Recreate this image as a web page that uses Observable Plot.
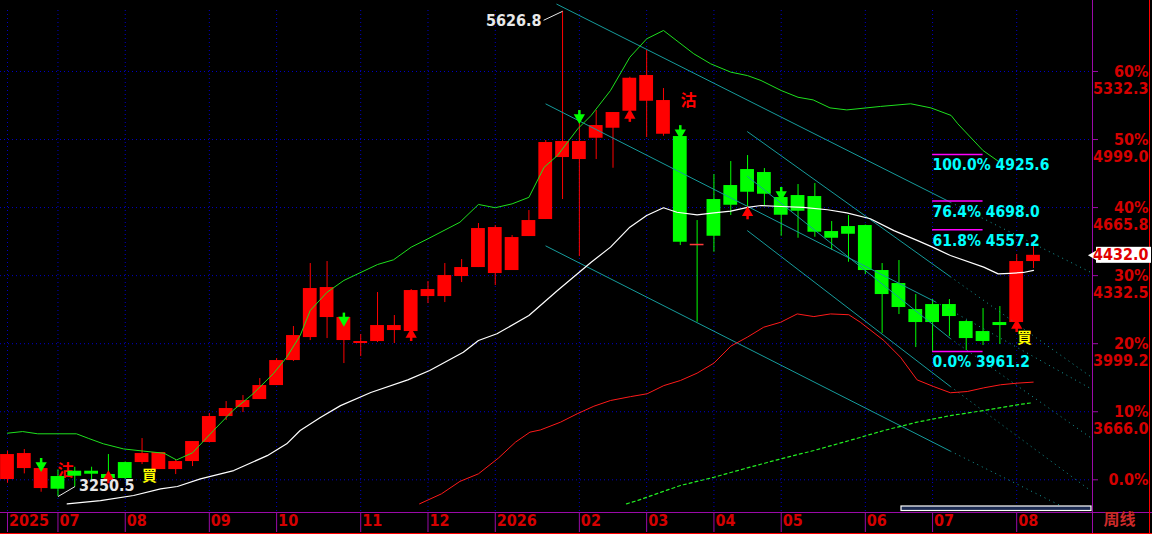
<!DOCTYPE html>
<html><head><meta charset="utf-8">
<script src="https://cdn.jsdelivr.net/npm/d3@7"></script>
<script src="https://cdn.jsdelivr.net/npm/@observablehq/plot@0.6"></script>
<style>html,body{margin:0;padding:0;background:#000;overflow:hidden}</style>
</head><body><div id="chart"></div>
<script>
// ---- weekly candles (index 0..61) ----
const opens  = [3334,3387.8,3289.9,3348.7,3374.8,3374.8,3358.5,3417.2,3417.2,3382.9,3382.9,3422.1,3515.2,3642.5,3686.6,3725.7,3794.3,3916.7,4029.3,4127.3,4014.7,4000,4009.8,4063.6,4058.7,4230.1,4230.1,4328.1,4372.1,4342.8,4357.5,4523.9,4607.2,4910.8,4901,5005.3,5054.3,5137.5,5186.5,5024.9,5013.6,4484.8,4705.1,4773.7,4852,4837.4,4714.9,4724.7,4719.8,4548.4,4572.9,4577.8,4357.5,4293.8,4166.5,4190.9,4190.9,4107.7,4058.7,4102.8,4102.8,4401.5];
const highs  = [3472.7,3480.9,3390,3381.3,3394,3394.3,3456.4,3420,3534.7,3466.2,3431.9,3520.1,3657.2,3715.9,3745.3,3828.6,3926.5,4083.2,4391.7,4401.5,4127.3,4044,4249.7,4137.1,4264.4,4303.6,4391.7,4411.3,4587.6,4577.8,4528.8,4651.3,4994.1,5626.8,5092,5141,5131.2,5304,5434.8,5248.7,5034.7,4602.3,4827.6,4891.2,4920.6,4856.9,4763.9,4778.6,4783.5,4597.4,4626.8,4580,4391.7,4406.4,4239.9,4215.4,4215.4,4112.6,4171.4,4181.2,4435.8,4494];
const lows   = [3316,3361.7,3271.9,3250.5,3296.4,3329.1,3338.9,3335,3407.4,3382.9,3358.5,3397.6,3515.2,3622.9,3662.1,3725.7,3794.3,3911.8,4014.7,4024.4,3902,3936.3,4005,4000,4019.5,4195.8,4200.7,4298.7,4372.1,4284,4357.5,4523.9,4607.2,4705.1,4426,4901,4858.4,5131,5008.7,5015,4479.9,4104.3,4447.1,4626.8,4661.1,4675.8,4525.4,4515.6,4520.5,4456.8,4398.1,4337.9,4048.9,4142,3980.4,3961.2,4034.2,3965.7,3990.2,3995.1,4102.8,4367.2];
const closes = [3456.4,3461.3,3387.8,3286.6,3350.3,3360.1,3338.9,3338.9,3461.3,3466.2,3422.1,3520.1,3642.5,3681.7,3720.8,3794.3,3916.7,4039.1,4269.3,4274.2,4127.3,4009.8,4088.1,4088.1,4259.5,4264.4,4333,4372.1,4563.1,4568,4519,4602.3,4984.3,4989.2,4989.2,5067.5,5131.2,5299.1,5312.4,5189.9,4496,4484.8,4525.4,4677.2,4740.9,4731.1,4628.3,4647.8,4545,4515.6,4535.2,4357.5,4239.9,4176.3,4102.8,4102.8,4132.2,4024.4,4009.8,4088.1,4401.5,4432];

// ---- month ticks ----
const monthIdx    = [0,3,7,12,16,21,25,29,34,38,42,46,51,55,60];
const monthLabels = ["2025","07","08","09","10","11","12","2026","02","03","04","05","06","07","08"];

// ---- right axis ----
const basePrice   = 3332.7;
const pctLevels   = [60,50,40,30,20,10,0];
const pctLabels   = ["60%","50%","40%","30%","20%","10%","0.0%"];
const priceLabels = ["5332.3","4999.0","4665.8","4332.5","3999.2","3666.0"];

// ---- indicator lines: [candle index, price] ----
const upperBand = [[0,3561],[0.9,3569],[1.8,3558],[4.1,3558],[4.8,3536],[5.7,3509],[6.9,3484],[8.1,3473],[9.3,3463],[10.05,3430],[11,3465],[12.25,3574],[13.4,3672],[14.6,3754],[15.8,3852],[16.6,3933],[17.4,4039],[18,4162],[19,4251],[20,4309],[22,4387],[22.95,4410],[24,4472],[25,4513],[26.9,4594],[28,4681],[29,4665],[30,4684],[31,4716],[31.9,4863],[32.7,4921],[33.9,5051],[34.7,5117],[35.85,5239],[37,5402],[38,5492],[39,5533],[40.8,5419],[41.8,5370],[43,5329],[44,5312],[44.8,5288],[46,5239],[47,5206],[47.9,5193],[48.9,5154],[49.9,5144],[51.9,5161],[53.7,5174],[54.9,5154],[56.1,5117],[56.5,5076],[58,4945],[58.9,4893]];
const midLine = [[3.55,3215],[5.53,3231],[7.5,3256],[9.1,3288],[10.1,3300],[11.47,3337],[13.45,3378],[15.44,3451],[16.6,3509],[17.4,3574],[18.6,3638],[19.8,3696],[21.6,3760],[23.8,3822],[25.1,3868],[27.1,3957],[28,4015],[29.1,4048],[31,4137],[32.7,4260],[34.7,4398],[35.85,4472],[37,4570],[38,4627],[39,4665],[39.8,4643],[41,4630],[42,4640],[43,4648],[44,4667],[44.8,4676],[46,4671],[47.3,4667],[48.75,4655],[49.9,4640],[51.3,4611],[52.7,4553],[54.08,4505],[55,4472],[56.06,4431],[58.04,4374],[58.9,4341],[59.6,4344],[60.4,4348],[61,4358]];
const lowerBand = [[24.5,3215],[25.8,3264],[26.9,3325],[28,3362],[29.2,3440],[30.2,3517],[31.06,3566],[31.69,3577],[32.88,3615],[33.87,3656],[34.86,3693],[35.85,3721],[37.04,3740],[38.03,3754],[39.02,3794],[40.01,3819],[41,3855],[42,3904],[43,3987],[43.98,4031],[44.96,4080],[45.96,4104],[46.95,4145],[47.94,4132],[48.93,4145],[50.02,4141],[50.71,4104],[52.1,4015],[53.09,3933],[54.08,3822],[55.07,3789],[56.06,3759],[57.06,3765],[58.04,3783],[59.04,3798],[60.03,3806],[60.98,3811]];
const longLine = [[36.8,3215],[37.44,3231],[40.01,3305],[41.99,3345],[43.98,3391],[45.96,3435],[47.94,3476],[50.52,3536],[52.1,3574],[54.08,3615],[56.06,3647],[58.04,3672],[60.03,3700],[60.92,3710]];

// ---- channel lines: start, end of solid part, end of dotted part ----
const chanStart = [[32.64,5662.5],[31.99,5173.8],[31.99,4478.4],[43.98,5038.1],[43.98,4819.2],[43.98,4553.3]];
const chanSplit = [[56.06,4691.9],[55.17,4204],[56.06,3473],[56.06,4327.1],[56.06,4024.4],[56.06,3789.4]];
const chanEnd   = [[64.39,4349.1],[64.39,3780],[62.6,3206.6],[64.39,3838.6],[64.39,3539.6],[64.39,3280.1]];

// ---- Fibonacci retracement ----
const fibLevels = ["100.0%","76.4%","61.8%","0.0%"];
const fibPrices = [4925.6,4698.0,4557.2,3961.2];
const fibDashed = [false,true,true,false];
const fibFrom = 55, fibTo = 58;

// ---- signals ----
const downArrowIdx = [2,20,34,40,46];
const downArrowAt  = [3388,4100,5092,5018,4715];
const upArrowIdx   = [6,24,37,44,60];
const upArrowAt    = [3362,4059,5132,4655,4103];
const sellMarks = [[3.45,3376],[40.49,5188]];
const buyMarks  = [[8.44,3349],[60.46,4027]];
const highIdx = 33, lowIdx = 3;

// ---- scales ----
const W = 1152, H = 534, mR = 60, mB = 22;
const xDomain = [-0.416, 64.507];
const yDomain = [3172.6, 5679.8];
const kx = (xDomain[1]-xDomain[0]) / (W - mR);
const ky = (yDomain[1]-yDomain[0]) / (H - mB);
const xmax = xDomain[1], ymin = yDomain[0];

const candles = d3.range(opens.length).map(i => ({i, o: opens[i], h: highs[i], l: lows[i], c: closes[i]}));
const RED = "#ff0000", GREEN = "#00ff00";
const bodyColor = d => d.c >= d.o ? RED : GREEN;
const wickColor = d => d.c > d.o ? RED : GREEN;
const gridPrices = pctLevels.map(p => basePrice * (1 + p/100));
const gridBlue = "#0000c8", purple = "#9a0aa8", teal = "#169c9c", axisRed = "#d40000";
const condensed = "'DejaVu Sans Condensed','DejaVu Sans',sans-serif";
const cjk = "'Noto Sans CJK SC','Noto Sans CJK TC',sans-serif";
const B = 0.41;

const chart = Plot.plot({
  width: W, height: H,
  marginLeft: 0, marginRight: mR, marginTop: 0, marginBottom: mB,
  x: {domain: xDomain, axis: null},
  y: {domain: yDomain, axis: null},
  style: {background: "#000", color: "#fff", overflow: "visible"},
  marks: [
    // grid
    Plot.ruleY(gridPrices, {y: d => d, stroke: gridBlue, strokeDasharray: "1,3"}),
    Plot.ruleX(monthIdx, {x: d => d, stroke: gridBlue, strokeDasharray: "1,3", insetTop: 10}),
    // sell mark under candles
    Plot.text(sellMarks.slice(0,1), {x: d => d[0], y: d => d[1], text: () => "沽", fill: RED, fontSize: 16, fontWeight: "bold", fontFamily: cjk}),
    // candles
    Plot.ruleX(candles, {x: "i", y1: "l", y2: "h", stroke: wickColor, strokeWidth: 1}),
    Plot.rect(candles.filter(d => d.c !== d.o), {x1: d => d.i - B, x2: d => d.i + B, y1: "o", y2: "c", fill: bodyColor}),
    Plot.ruleY(candles.filter(d => d.c === d.o), {x1: d => d.i - B, x2: d => d.i + B, y: "c", stroke: "#ff3a3a", strokeWidth: 1.5}),
    // channels
    Plot.link(d3.range(chanStart.length), {x1: i => chanStart[i][0], y1: i => chanStart[i][1], x2: i => chanSplit[i][0], y2: i => chanSplit[i][1], stroke: teal, strokeWidth: 1}),
    Plot.link(d3.range(chanStart.length), {x1: i => chanSplit[i][0], y1: i => chanSplit[i][1], x2: i => chanEnd[i][0], y2: i => chanEnd[i][1], stroke: teal, strokeWidth: 1, strokeDasharray: "1,4"}),
    // indicator lines
    Plot.line(longLine, {x: d => d[0], y: d => d[1], stroke: "#22ee22", strokeWidth: 1.2, strokeDasharray: "3,3"}),
    Plot.line(lowerBand, {x: d => d[0], y: d => d[1], stroke: "#ff1a1a", strokeWidth: 1}),
    Plot.line(midLine, {x: d => d[0], y: d => d[1], stroke: "#ffffff", strokeWidth: 1.2}),
    Plot.line(upperBand, {x: d => d[0], y: d => d[1], stroke: "#1ee01e", strokeWidth: 1}),
    // arrows
    Plot.ruleX(downArrowIdx, {x: d => d, y1: (d, i) => downArrowAt[i], y2: (d, i) => downArrowAt[i], insetTop: -10, insetBottom: 4, stroke: GREEN, strokeWidth: 2.5}),
    Plot.dot(downArrowIdx, {x: d => d, y: (d, i) => downArrowAt[i], symbol: "triangle", rotate: 180, r: 4.2, fill: GREEN, dy: -3}),
    Plot.ruleX(upArrowIdx, {x: d => d, y1: (d, i) => upArrowAt[i], y2: (d, i) => upArrowAt[i], insetTop: 4, insetBottom: -10, stroke: RED, strokeWidth: 2.5}),
    Plot.dot(upArrowIdx, {x: d => d, y: (d, i) => upArrowAt[i], symbol: "triangle", r: 4.2, fill: RED, dy: 3}),
    // sell / buy marks
    Plot.text(sellMarks.slice(1), {x: d => d[0], y: d => d[1], text: () => "沽", fill: RED, fontSize: 16, fontWeight: "bold", fontFamily: cjk}),
    Plot.text(buyMarks, {x: d => d[0], y: d => d[1], text: () => "買", fill: "#ffff00", fontSize: 15, fontWeight: "bold", fontFamily: cjk}),
    // fibonacci
    Plot.ruleY(fibPrices, {y: d => d, x1: fibFrom, x2: fibTo, stroke: "#ff00ff", strokeWidth: 1.5, strokeDasharray: (d, i) => fibDashed[i] ? "2,3" : null}),
    Plot.text(fibPrices, {x: fibFrom, y: d => d, text: (d, i) => `${fibLevels[i]} ${d.toFixed(1)}`, textAnchor: "start", dy: 11, fill: "#00ffff", fontSize: 15.5, fontWeight: "bold", fontFamily: condensed}),
    // high / low labels with leaders
    Plot.link([highIdx], {x1: d => d, y1: d => highs[d], x2: d => d - 19*kx, y2: d => highs[d] - 9*ky, stroke: "#e8e8e8", strokeWidth: 1}),
    Plot.text([highIdx], {x: d => d, y: d => highs[d], text: d => highs[d].toFixed(1), textAnchor: "end", dx: -21, dy: 10, fill: "#e8e8e8", fontSize: 16, fontWeight: "bold", fontFamily: condensed}),
    Plot.link([lowIdx], {x1: d => d, y1: d => lows[d], x2: d => d + 17*kx, y2: d => lows[d] + 10*ky, stroke: "#e8e8e8", strokeWidth: 1}),
    Plot.text([lowIdx], {x: d => d, y: d => lows[d], text: d => lows[d].toFixed(1), textAnchor: "start", dx: 21, dy: -10.5, fill: "#e8e8e8", fontSize: 16, fontWeight: "bold", fontFamily: condensed}),
    // scrollbar
    Plot.rect([0], {x1: xmax, x2: xmax, y1: ymin, y2: ymin, insetLeft: -191, insetRight: 1, insetTop: -6, insetBottom: 1.5, fill: "#1c2b52", stroke: "#ffffff", strokeWidth: 1.2}),
    // frame lines
    Plot.ruleX([xmax], {x: d => d, stroke: purple, insetBottom: -mB}),
    Plot.ruleY([ymin], {y: d => d, stroke: purple, insetRight: -mR}),
    Plot.ruleX(monthIdx, {x: d => d, stroke: purple, insetTop: H - mB, insetBottom: -20}),
    Plot.ruleY(gridPrices, {y: d => d, x1: xmax, x2: xmax, insetRight: -6, stroke: purple}),
    Plot.ruleX([xmax], {x: d => d, dx: 57, stroke: RED, insetBottom: -mB}),
    Plot.ruleY([ymin], {y: d => d, dy: 21, stroke: RED, insetRight: -mR}),
    // axis labels
    Plot.text(monthIdx, {x: d => d, frameAnchor: "bottom", text: (d, i) => monthLabels[i], textAnchor: "start", dx: 1.5, dy: 13, fill: axisRed, fontSize: 16, fontWeight: "bold", fontFamily: condensed}),
    Plot.text(["周线"], {frameAnchor: "bottom-right", text: d => d, dx: 27, dy: 12, textAnchor: "middle", fill: "#cc2a2a", fontSize: 16, fontWeight: "bold", fontFamily: cjk}),
    Plot.text(gridPrices, {y: d => d, frameAnchor: "right", text: (d, i) => pctLabels[i], textAnchor: "end", dx: 56, fill: axisRed, fontSize: 16, fontWeight: "bold", fontFamily: condensed}),
    Plot.text(gridPrices.slice(0, priceLabels.length), {y: d => d, frameAnchor: "right", text: (d, i) => priceLabels[i], textAnchor: "end", dx: 56, dy: 17.5, fill: axisRed, fontSize: 16, fontWeight: "bold", fontFamily: condensed}),
    // last price tag
    Plot.rect([closes[closes.length-1]], {x1: xmax, x2: xmax, y1: d => d, y2: d => d, insetLeft: 4, insetRight: -59, insetTop: -8, insetBottom: -8, fill: "#ffffff"}),
    Plot.dot([closes[closes.length-1]], {x: xmax, y: d => d, symbol: "triangle", rotate: -90, r: 5.5, fill: "#ffffff", dx: 4}),
    Plot.text([closes[closes.length-1]], {y: d => d, frameAnchor: "right", text: d => d.toFixed(1), textAnchor: "end", dx: 56, fill: "#e00000", fontSize: 16, fontWeight: "bold", fontFamily: condensed})
  ]
});
document.getElementById("chart").appendChild(chart);
</script>
</body></html>
